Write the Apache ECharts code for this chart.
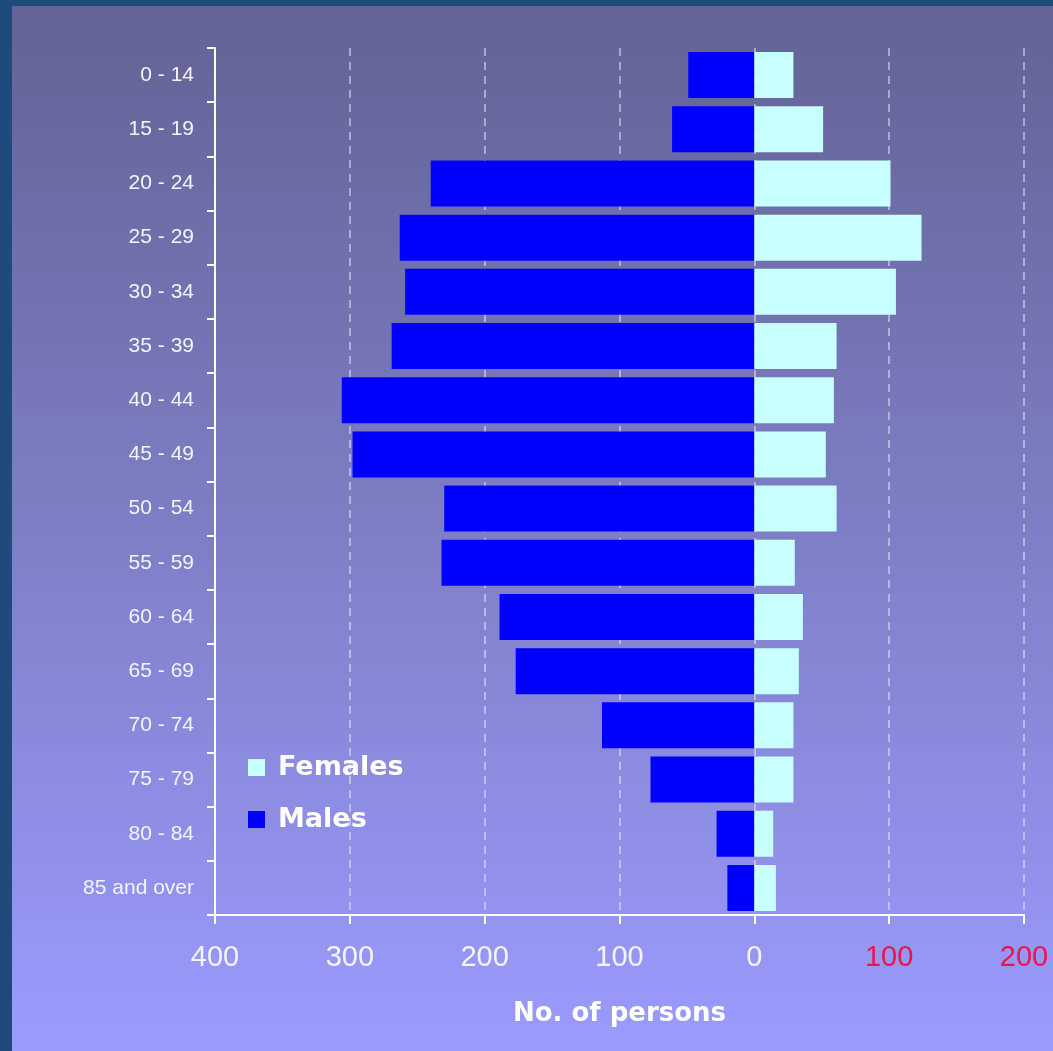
<!DOCTYPE html>
<html>
<head>
<meta charset="utf-8">
<title>Population by age and sex</title>
<script src="https://cdn.jsdelivr.net/npm/echarts@6/dist/echarts.min.js"></script>
<style>
  html, body { margin: 0; padding: 0; width: 1053px; height: 1051px; background: #1f4a7c; overflow: hidden; }
  #chart { position: absolute; left: 12px; top: 6px; width: 1041px; height: 1045px; }
</style>
</head>
<body>
<div id="chart"></div>
<script>
// Age groups, top to bottom
const ageGroups = ['0 - 14', '15 - 19', '20 - 24', '25 - 29', '30 - 34', '35 - 39', '40 - 44', '45 - 49',
  '50 - 54', '55 - 59', '60 - 64', '65 - 69', '70 - 74', '75 - 79', '80 - 84', '85 and over'];
// Number of persons in each age group
const males = [49, 61, 240, 263, 259, 269, 306, 298, 230, 232, 189, 177, 113, 77, 28, 20];
const females = [29, 51, 101, 124, 105, 61, 59, 53, 61, 30, 36, 33, 29, 29, 14, 16];
// Horizontal scale: males drawn to the left of zero, females to the right
const axisMin = -400;
const axisMax = 200;
const axisStep = 100;

const chart = echarts.init(document.getElementById('chart'), null, { renderer: 'canvas' });

chart.setOption({
  animation: false,
  backgroundColor: {
    type: 'linear', x: 0, y: 0, x2: 0, y2: 1,
    colorStops: [
      { offset: 0, color: '#636395' },
      { offset: 0.5, color: '#7e7ec6' },
      { offset: 1, color: '#9b9bff' }
    ]
  },
  grid: { left: 203, top: 42, right: 29, bottom: 136, containLabel: false },
  legend: {
    data: ['Females', 'Males'],
    orient: 'vertical',
    left: 236,
    top: 748,
    padding: 0,
    icon: 'rect',
    itemWidth: 17,
    itemHeight: 17,
    itemGap: 25,
    textStyle: {
      color: '#ffffff',
      fontFamily: 'DejaVu Sans',
      fontWeight: 'bold',
      fontSize: 27,
      lineHeight: 27,
      padding: [0, 0, 0, 8]
    }
  },
  xAxis: {
    type: 'value',
    min: axisMin,
    max: axisMax,
    interval: axisStep,
    name: 'No. of persons',
    nameLocation: 'middle',
    nameGap: 86,
    nameTextStyle: {
      color: '#ffffff',
      fontFamily: 'DejaVu Sans',
      fontWeight: 'bold',
      fontSize: 26
    },
    axisLine: { show: true, lineStyle: { color: '#ffffff', width: 2 } },
    axisTick: { show: true, inside: false, length: 9, lineStyle: { color: '#ffffff', width: 2 } },
    axisLabel: {
      margin: 28,
      fontFamily: 'Liberation Sans',
      fontSize: 29,
      formatter: v => String(Math.abs(v)),
      color: v => (v > 0 ? '#e8174a' : '#f4f4ff')
    },
    splitLine: {
      show: true,
      lineStyle: { color: 'rgba(235,235,255,0.5)', width: 2, type: [8, 6] }
    }
  },
  yAxis: {
    type: 'category',
    data: ageGroups,
    inverse: true,
    axisLine: { show: true, onZero: false, lineStyle: { color: '#ffffff', width: 2 } },
    axisTick: { show: true, inside: false, length: 8, lineStyle: { color: '#ffffff', width: 2 } },
    axisLabel: {
      margin: 21,
      fontFamily: 'Liberation Sans',
      fontSize: 21,
      color: '#f4f4ff'
    },
    splitLine: { show: false }
  },
  series: [
    {
      name: 'Males',
      type: 'bar',
      stack: 'pyramid',
      barCategoryGap: '15%',
      itemStyle: { color: '#0000ff' },
      data: males.map(v => -v)
    },
    {
      name: 'Females',
      type: 'bar',
      stack: 'pyramid',
      barCategoryGap: '15%',
      itemStyle: { color: '#c8ffff' },
      data: females
    }
  ]
});
</script>
</body>
</html>
